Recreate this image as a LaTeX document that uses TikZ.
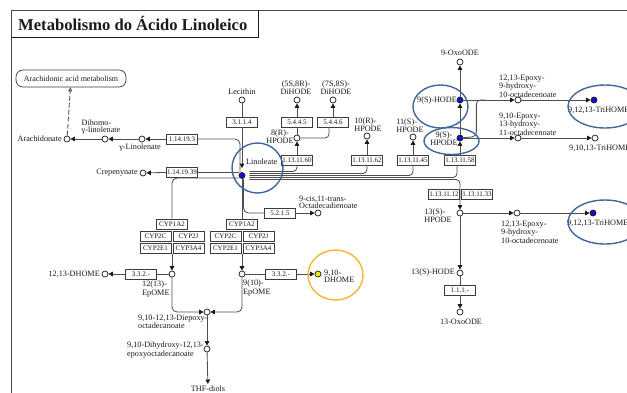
\documentclass[tikz,border=0pt]{standalone}
\usepackage{fontspec}
\setmainfont{Liberation Serif}
\usetikzlibrary{arrows.meta,calc}
\definecolor{ink}{HTML}{1A1A1A}
\definecolor{wire}{HTML}{4E4E4E}
\definecolor{hitblue}{HTML}{1010D8}
\definecolor{ringblue}{HTML}{41669B}
\definecolor{ringgold}{HTML}{F6B52C}
\definecolor{hityellow}{HTML}{EEEE10}

\begin{document}
\begin{tikzpicture}[x=1pt,y=-1pt,
  txt/.style={font=\fontsize{8.2}{7}\selectfont,inner sep=0pt,align=left,text=ink},
  cpd/.style={circle,draw=ink,fill=white,line width=0.7pt,inner sep=0pt,minimum size=6pt},
  hit/.style={cpd,fill=hitblue},
  ec/.style={draw=ink!85,fill=white,line width=0.7pt,inner sep=0pt,
    minimum width=31pt,minimum height=10pt,font=\fontsize{7}{7}\selectfont,text=ink},
  link/.style={draw=wire,line width=0.85pt},
  rxn/.style={link,-{Triangle[length=4.5pt,width=4.5pt,color=ink]}},
  ring/.style={draw=ringblue,line width=1.4pt}]
  \useasboundingbox (0,0) rectangle (627,392);

  % frame and title
  \draw[ink!80,line width=0.9pt] (640,10) -- (11,10) -- (11,400);
  \draw[ink,line width=0.9pt] (11,37) -- (258,37) -- (258,10);
  \node[font=\bfseries\fontsize{16.6}{18}\selectfont,anchor=west,inner sep=0pt,text=ink]
    (title) at (18,23.5) {Metabolismo do Ácido Linoleico};

  % compounds
  \node[cpd] (arach) at (67,139) {};
  \node[cpd] (dihomo) at (105,139) {};
  \node[cpd] (glin) at (142,139) {};
  \node[cpd] (crep) at (143,173) {};
  \node[hit] (lino) at (242,175.5) {};
  \node[cpd] (lecithin) at (242,100) {};
  \node[cpd] (hpode8r) at (297,138) {};
  \node[cpd] (dihode58) at (297,100) {};
  \node[cpd] (dihode78) at (333,100) {};
  \node[cpd] (hpode10r) at (367,136) {};
  \node[cpd] (hpode11s) at (413,137) {};
  \node[hit] (hpode9s) at (460,138) {};
  \node[hit] (hode9s) at (460,100) {};
  \node[cpd] (oxo9) at (460,62) {};
  \node[cpd] (epox1213a) at (518,100) {};
  \node[hit] (trihome1) at (594,100) {};
  \node[cpd] (epox910) at (518,138) {};
  \node[cpd] (trihome2) at (595,138) {};
  \node[cpd] (hpode13s) at (460,213) {};
  \node[cpd] (epox1213b) at (517,213) {};
  \node[hit] (trihome3) at (593,213) {};
  \node[cpd] (hode13s) at (460,273) {};
  \node[cpd] (oxo13) at (460,312) {};
  \node[cpd] (octadec) at (318,213) {};
  \node[cpd] (epomeL) at (172,274) {};
  \node[cpd] (epomeR) at (242,274) {};
  \node[cpd] (dhome1213) at (105,274) {};
  \node[cpd,fill=hityellow] (dhome910) at (318,274) {};
  \node[cpd] (diepoxy) at (207,312) {};
  \node[cpd] (dihydroxy) at (207,349) {};

  % enzymes
  \node[ec] (e141193) at (182,139) {1.14.19.3};
  \node[ec] (e141939) at (182,172) {1.14.19.39};
  \node[ec] (e31114) at (242,122) {3.1.1.4};
  \node[ec] (e54445) at (297,122) {5.4.4.5};
  \node[ec] (e54446) at (333,122) {5.4.4.6};
  \node[ec] (e1311160) at (297,160) {1.13.11.60};
  \node[ec] (e1311162) at (367,160) {1.13.11.62};
  \node[ec] (e1311145) at (413,160) {1.13.11.45};
  \node[ec] (e1311158) at (460,160) {1.13.11.58};
  \node[ec] (e1311112) at (444,194) {1.13.11.12};
  \node[ec] (e1311133) at (477,194) {1.13.11.33};
  \node[ec] (e111) at (460,290) {1.1.1.-};
  \node[ec] (e5215) at (280,213) {5.2.1.5};
  \node[ec] (e332a) at (141,274) {3.3.2.-};
  \node[ec] (e332b) at (281,274) {3.3.2.-};
  \foreach \sd/\cx in {L/172,R/242}{
    \node[ec] (cyp\sd1a2) at (\cx,224) {CYP1A2};
    \node[ec] (cyp\sd2c) at (\cx-16.5,236.5) {CYP2C};
    \node[ec] (cyp\sd2j) at (\cx+16.5,236.5) {CYP2J};
    \node[ec] (cyp\sd2e1) at (\cx-16.5,248.5) {CYP2E1};
    \node[ec] (cyp\sd3a4) at (\cx+16.5,248.5) {CYP3A4};
  }
  \node[draw=ink!85,rounded corners=7pt,line width=0.7pt,minimum width=110pt,
    minimum height=17pt,inner sep=0pt,font=\fontsize{8}{8}\selectfont,text=ink]
    (aam) at (71,78.5) {Arachidonic acid metabolism};

  % labels
  \node[txt,anchor=east] (arachL) at (62,139) {Arachidonate};
  \node[txt] (dihomoL) at (101,127) {Dihomo-\\γ-linolenate};
  \node[txt] (glinL) at (140,148) {γ-Linolenate};
  \node[txt,anchor=east] (crepL) at (138,173) {Crepenynate};
  \node[txt,anchor=west] (linoL) at (246,162) {Linoleate};
  \node[txt] (lecithinL) at (242,92) {Lecithin};
  \node[txt,align=center] (dihode58L) at (296,88) {(5S,8R)-\\DiHODE};
  \node[txt,align=center] (dihode78L) at (336,88) {(7S,8S)-\\DiHODE};
  \node[txt,align=center] (hpode8rL) at (280,137) {8(R)-\\HPODE};
  \node[txt] (hpode10rL) at (368,125) {10(R)-\\HPODE};
  \node[txt] (hpode11sL) at (410,126) {11(S)-\\HPODE};
  \node[txt,align=center] (hpode9sL) at (444,139) {9(S)-\\HPODE};
  \node[txt,anchor=east] (hode9sL) at (457,101) {9(S)-HODE};
  \node[txt] (oxo9L) at (460,53) {9-OxoODE};
  \node[txt,anchor=west] (epox1213aL) at (499,86) {12,13-Epoxy-\\9-hydroxy-\\10-octadecenoate};
  \node[txt,anchor=west] (epox910L) at (499,124) {9,10-Epoxy-\\13-hydroxy-\\11-octadecenoate};
  \node[txt,anchor=west] (trihome1L) at (568,110) {9,12,13-TriHOME};
  \node[txt,anchor=west] (trihome2L) at (569,148) {9,10,13-TriHOME};
  \node[txt] (hpode13sL) at (438,216) {13(S)-\\HPODE};
  \node[txt,anchor=west] (epox1213bL) at (501,232) {12,13-Epoxy-\\9-hydroxy-\\10-octadecenoate};
  \node[txt,anchor=west] (trihome3L) at (567,223) {9,12,13-TriHOME};
  \node[txt,anchor=east] (hode13sL) at (455,273) {13(S)-HODE};
  \node[txt] (oxo13L) at (461,322) {13-OxoODE};
  \node[txt,anchor=west] (octadecL) at (299,202) {9-cis,11-trans-\\Octadecadienoate};
  \node[txt,anchor=west] (epomeLL) at (142,289) {12(13)-\\EpOME};
  \node[txt,anchor=west] (epomeRL) at (243,288) {9(10)-\\EpOME};
  \node[txt,anchor=east] (dhome1213L) at (100,274) {12,13-DHOME};
  \node[txt,anchor=west] (dhome910L) at (324,276) {9,10-\\DHOME};
  \node[txt,anchor=west] (diepoxyL) at (138,322) {9,10-12,13-Diepoxy-\\octadecanoate};
  \node[txt,anchor=west] (dihydroxyL) at (127,350) {9,10-Dihydroxy-12,13-\\epoxyoctadecanoate};
  \node[txt,anchor=north] (thf) at (208,386) {THF-diols};

  % left branch
  \draw[link,dash pattern=on 5pt off 2pt,-{Triangle[open,length=4pt,width=4pt]}] (arach) -- (aam);
  \draw[rxn] (dihomo) -- (arach);
  \draw[rxn] (glin) -- (dihomo);
  \draw[rxn] (e141193) -- (glin);
  \draw[link,rounded corners=5pt] ([xshift=-2pt]lino.north) |- (e141193.east);
  \draw[rxn] (e141939) -- (crep);
  \draw[link] (e141939) -- (e141939 -| lino.west);
  \draw[link] (lecithin) -- (e31114);
  \draw[rxn,shorten >=4pt] (e31114) -- (lino);
  \draw[link,rounded corners=5pt] ([yshift=-2.5pt]lino.west) -| (cypL1a2.north);
  \draw[link] (lino) -- (cypR1a2);
  \draw[link,rounded corners=5pt] ([xshift=1.5pt]lino.south) |- (e5215.west);
  \draw[rxn] (e5215) -- (octadec);

  % lipoxygenase bundle
  \foreach \dy/\dst in {4/e1311160,2/e1311162,0/e1311145}
    \draw[link,rounded corners=4pt] ([xshift=4pt,yshift=\dy pt]lino.east) -| (\dst.south);
  \draw[link,rounded corners=4pt] ([xshift=4pt,yshift=-2pt]lino.east) -| ([xshift=-3pt]e1311158.south);
  \draw[rxn,rounded corners=4pt] ([xshift=4pt,yshift=-4pt]lino.east) -| (hpode13s);
  \draw[rxn] (e1311160) -- (hpode8r);
  \draw[rxn] (e1311162) -- (hpode10r);
  \draw[rxn] (e1311145) -- (hpode11s);
  \draw[rxn] (e1311158) -- (hpode9s);
  \draw[link] (hpode8r) -- (e54445);
  \draw[rxn] (e54445) -- (dihode58);
  \draw[link,rounded corners=4pt] (hpode8r) -| ([xshift=-4pt]e54446.south);
  \draw[rxn] (e54446) -- (dihode78);

  % 9(S) branch
  \draw[rxn] (hpode9s) -- (hode9s);
  \draw[rxn] (hode9s) -- (oxo9);
  \draw[rxn] (hode9s) -- (epox1213a);
  \draw[rxn] (epox1213a) -- (trihome1);
  \draw[link,rounded corners=4pt] (hpode9s) -- ([xshift=13pt,yshift=1.5pt]hpode9s.east)
    |- ([xshift=22pt]hode9s.east);
  \draw[rxn] (hpode9s) -- (epox910);
  \draw[rxn] (epox910) -- (trihome2);

  % 13(S) branch
  \draw[rxn] (hpode13s) -- (epox1213b);
  \draw[rxn] (epox1213b) -- (trihome3);
  \draw[rxn] (hpode13s) -- (hode13s);
  \draw[link] (hode13s) -- (e111);
  \draw[rxn] (e111) -- (oxo13);

  % epoxygenase branch
  \draw[rxn] (cypL1a2.south |- cypL3a4.south) -- (epomeL);
  \draw[rxn] (cypR1a2.south |- cypR3a4.south) -- (epomeR);
  \draw[link] (epomeL) -- (e332a);
  \draw[rxn] (e332a) -- (dhome1213);
  \draw[link] (epomeR) -- (e332b);
  \draw[rxn] (e332b) -- (dhome910);
  \draw[rxn,rounded corners=5pt] (epomeL) |- (diepoxy);
  \draw[rxn,rounded corners=5pt] (epomeR) |- (diepoxy);
  \draw[rxn] (diepoxy) -- (dihydroxy);
  \draw[rxn,shorten >=2pt] (dihydroxy) -- (thf);

  % highlight rings
  \draw[ring] (257.5,168) ellipse [x radius=25.5pt,y radius=25pt];
  \draw[ring] (440.5,106.5) ellipse [x radius=27.5pt,y radius=21.5pt];
  \draw[ring] (451.5,141) ellipse [x radius=27.5pt,y radius=13.5pt];
  \draw[ring] (605,106.5) ellipse [x radius=37pt,y radius=21.5pt];
  \draw[ring] (605,222) ellipse [x radius=37pt,y radius=22pt];
  \draw[ring,draw=ringgold] (335.5,275) ellipse [x radius=27.5pt,y radius=25pt];
\end{tikzpicture}
\end{document}
